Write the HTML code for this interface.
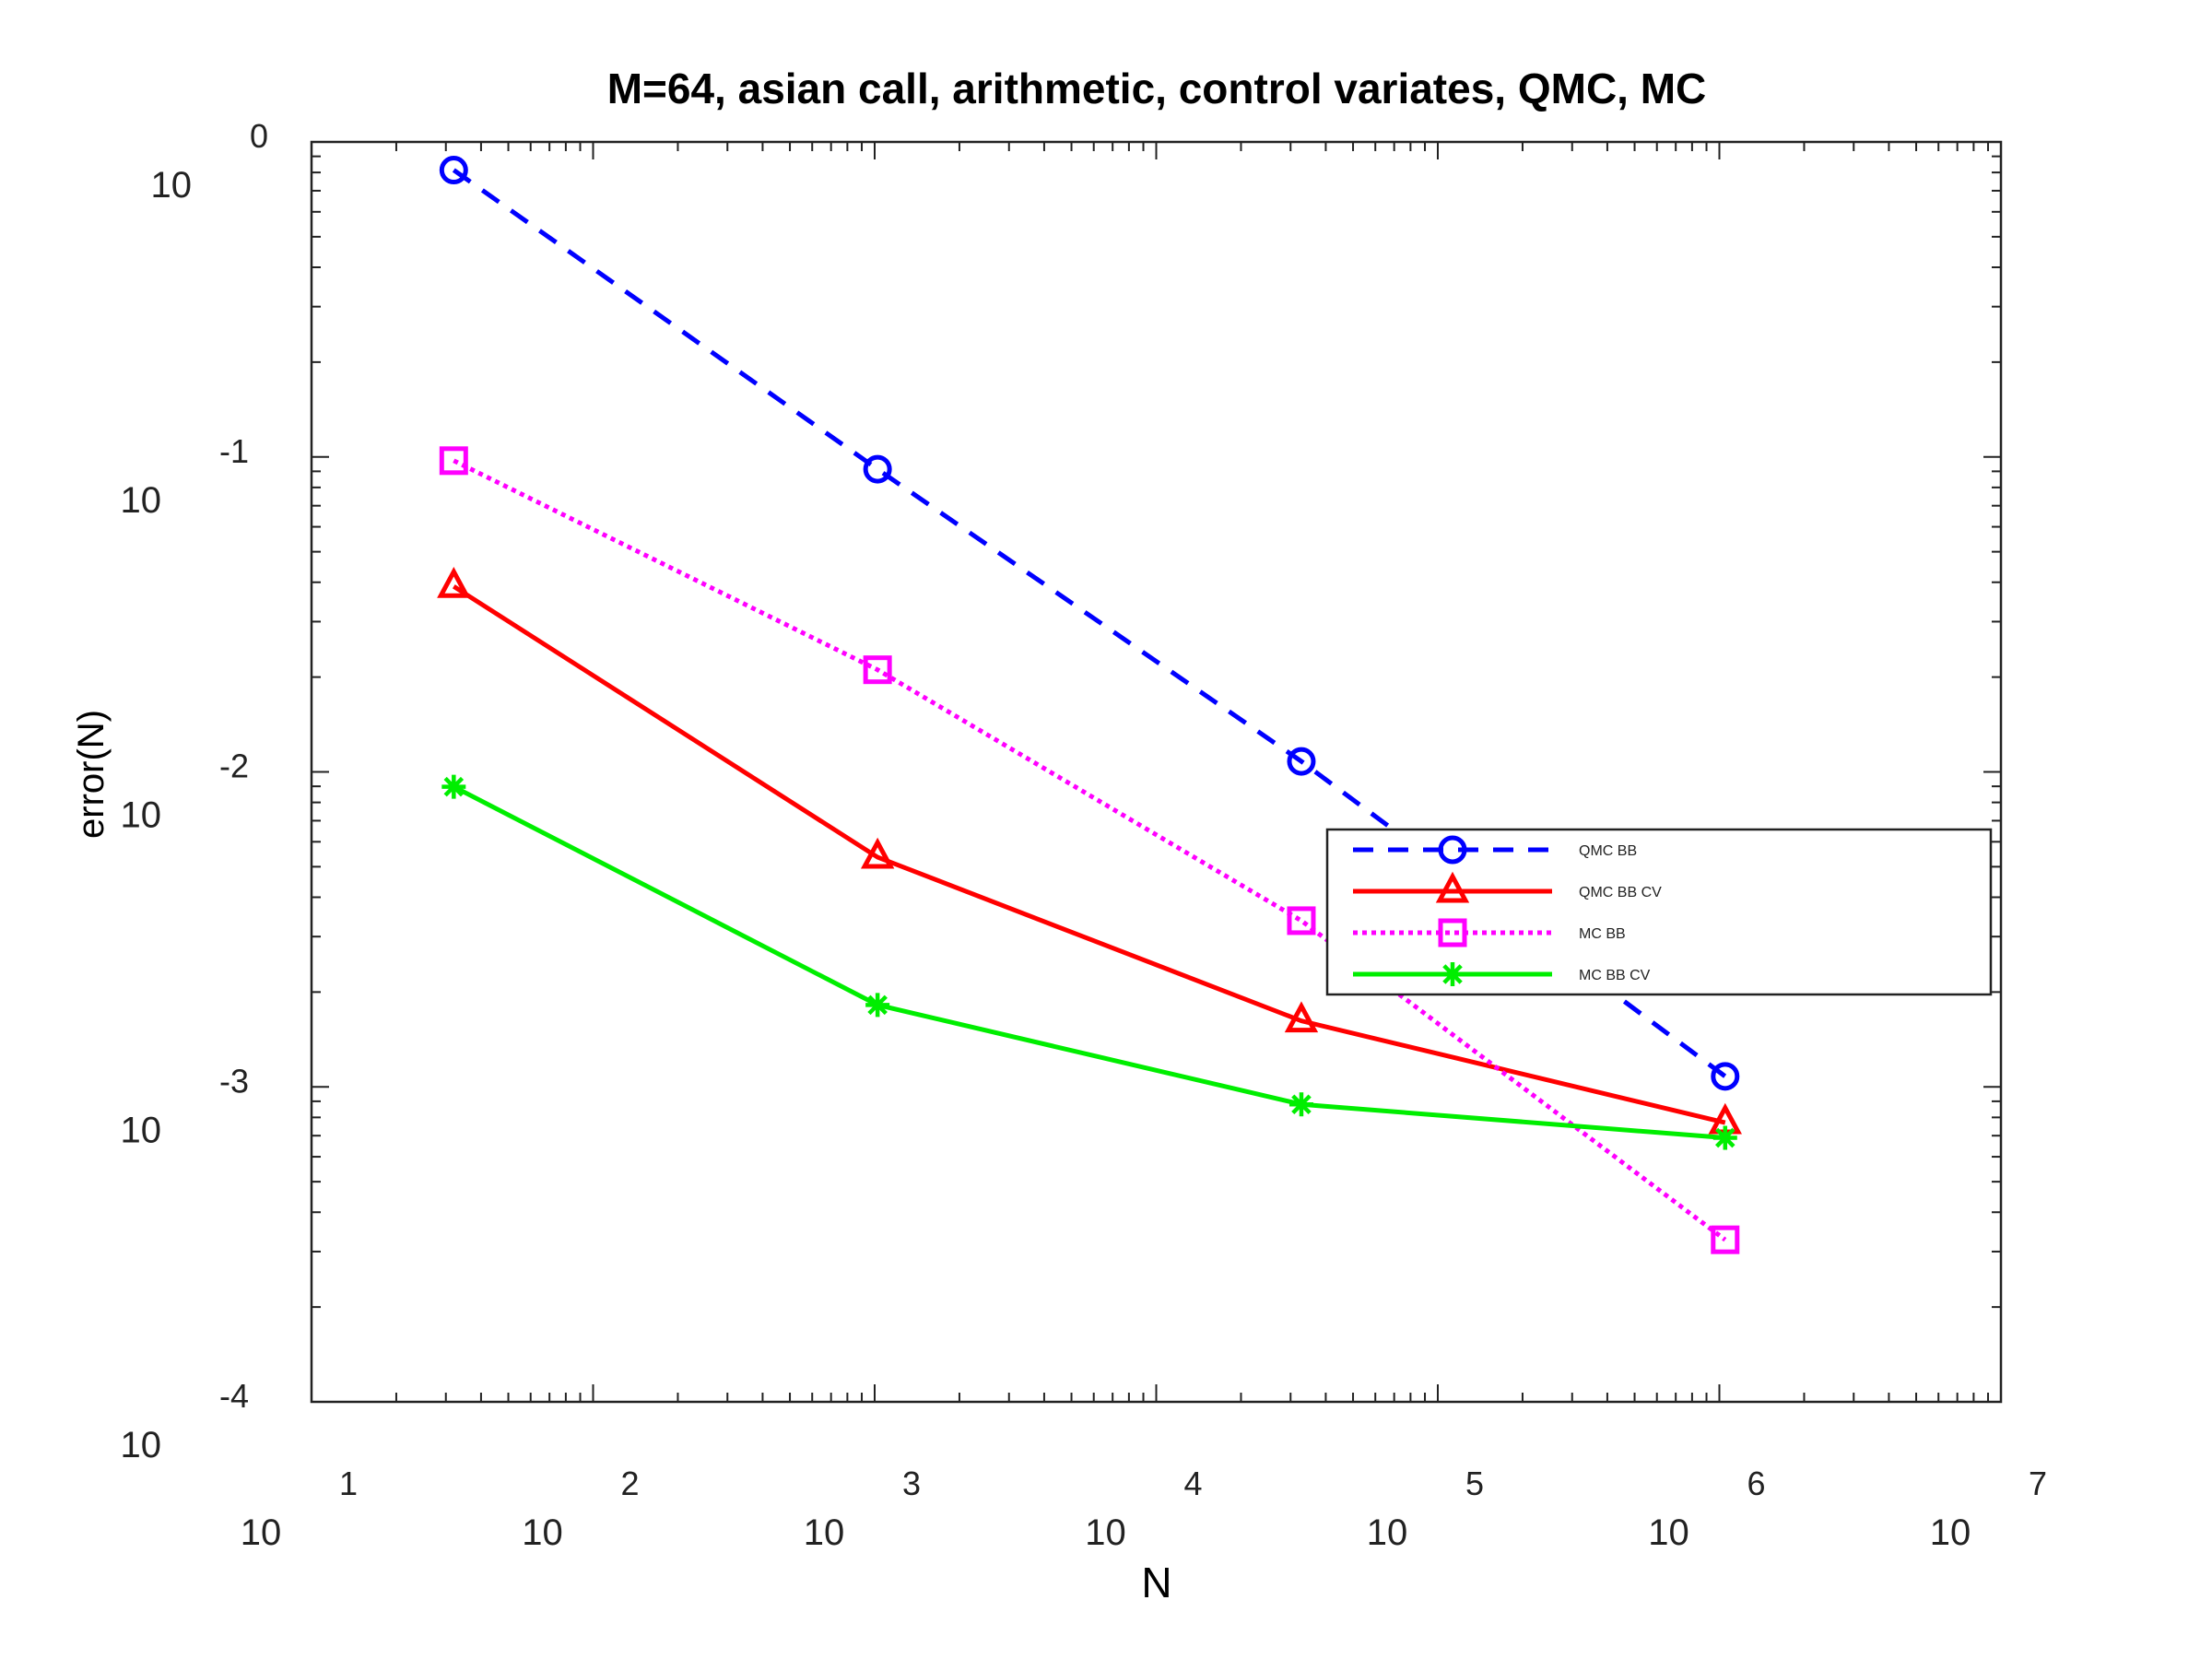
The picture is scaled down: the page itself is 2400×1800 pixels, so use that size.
<!DOCTYPE html>
<html><head><meta charset="utf-8"><style>
html,body{margin:0;padding:0;background:#fff}
svg{display:block;font-family:"Liberation Sans",sans-serif}
</style></head><body>
<svg id="chart" width="2400" height="1800" viewBox="0 0 2400 1800">
<rect x="0" y="0" width="2400" height="1800" fill="#fff"/>
<text x="1255" y="112" font-size="46" font-weight="bold" text-anchor="middle">M=64, asian call, arithmetic, control variates, QMC, MC</text>
<text x="1255" y="1733" font-size="46" text-anchor="middle">N</text>
<text transform="translate(112,840) rotate(-90)" font-size="40" text-anchor="middle">error(N)</text>
<g id="axes"></g>
<g id="series"></g>
<g id="legend"></g>
</svg>
<script>
const xValues = [32, 1024, 32768, 1048576];
const qmcBB = [0.814, 0.0914, 0.0108, 0.00108];
const qmcBBCV = [0.0388, 0.00536, 0.00162, 0.00077];
const mcBB = [0.0973, 0.0211, 0.00337, 0.000327];
const mcBBCV = [0.00897, 0.00182, 0.00088, 0.000689];
const xTickExps = [1, 2, 3, 4, 5, 6, 7];
const yTickExps = [0, -1, -2, -3, -4];
const seriesNames = ["QMC BB", "QMC BB CV", "MC BB", "MC BB CV"];

const NS = "http://www.w3.org/2000/svg";
const L = 338, R = 2171, T = 154, B = 1521;
const xMin = 1, xMax = 7, yMin = -4, yMax = 0;
function xs(v){ return L + (Math.log10(v) - xMin) / (xMax - xMin) * (R - L); }
function ys(v){ return T + (yMax - Math.log10(v)) / (yMax - yMin) * (B - T); }
function mk(tag, attrs, parent){
  const e = document.createElementNS(NS, tag);
  for (const k in attrs) e.setAttribute(k, attrs[k]);
  parent.appendChild(e); return e;
}
const axes = document.getElementById('axes');
const frame = mk('rect', {x:L, y:T, width:R-L, height:B-T, fill:'none', stroke:'#222', 'stroke-width':2.5}, axes);


for (let d = xMin; d <= xMax; d++) {
  for (let m = 1; m <= 9; m++) {
    if (d === xMax && m > 1) break;
    const px = xs(m * Math.pow(10, d));
    const len = m === 1 ? 19 : 10;
    const t1 = mk('line', {x1:px, y1:B, x2:px, y2:B-len, stroke:'#222', 'stroke-width':2}, axes);
    
    
    const t2 = mk('line', {x1:px, y1:T, x2:px, y2:T+len, stroke:'#222', 'stroke-width':2}, axes);
    
    
  }
}
xTickExps.forEach(e => {
  const px = xs(Math.pow(10, e));
  const b = mk('text', {x:px-55, y:1676, 'font-size':40, 'text-anchor':'middle', fill:'#222'}, axes);
  b.textContent = '10';
  
  
  const ex = mk('text', {x:px+40, y:1622, 'font-size':36, 'text-anchor':'middle', fill:'#222'}, axes);
  ex.textContent = String(e);
  
  
});
for (let d = yMin; d <= yMax; d++) {
  for (let m = 1; m <= 9; m++) {
    if (d === yMax && m > 1) break;
    const py = ys(m * Math.pow(10, d));
    const len = m === 1 ? 19 : 10;
    const t1 = mk('line', {x1:L, y1:py, x2:L+len, y2:py, stroke:'#222', 'stroke-width':2}, axes);
    
    
    const t2 = mk('line', {x1:R, y1:py, x2:R-len, y2:py, stroke:'#222', 'stroke-width':2}, axes);
    
    
  }
}
yTickExps.forEach(e => {
  const py = ys(Math.pow(10, e));
  const zero = e === 0;
  const b = mk('text', {x: zero ? 208 : 175, y: py+60, 'font-size':40, 'text-anchor':'end', fill:'#222'}, axes);
  b.textContent = '10';
  
  
  const ex = mk('text', {x: zero ? 291 : 270, y: py+6, 'font-size':36, 'text-anchor':'end', fill:'#222'}, axes);
  ex.textContent = String(e);
  
  
});

const styles = [
  {data:qmcBB, color:'#0000ff', dash:'22 16', marker:'circle', name:'qmc-bb'},
  {data:qmcBBCV, color:'#ff0000', dash:'', marker:'triangle', name:'qmc-bb-cv'},
  {data:mcBB, color:'#ff00ff', dash:'5 5', marker:'square', name:'mc-bb'},
  {data:mcBBCV, color:'#00ee00', dash:'', marker:'star', name:'mc-bb-cv'}
];
function marker(g, type, cx, cy, color){
  let e;
  if (type === 'circle') e = mk('circle', {cx, cy, r:13, fill:'none', stroke:color, 'stroke-width':5}, g);
  else if (type === 'square') e = mk('rect', {x:cx-13, y:cy-13, width:26, height:26, fill:'none', stroke:color, 'stroke-width':5}, g);
  else if (type === 'triangle') e = mk('polygon', {points:`${cx},${cy-16} ${cx-14},${cy+10} ${cx+14},${cy+10}`, fill:'none', stroke:color, 'stroke-width':5}, g);
  else {
    e = mk('g', {stroke:color, 'stroke-width':4.5}, g);
    for (let a = 0; a < 4; a++) {
      const ang = a * Math.PI / 4, dx = 13*Math.sin(ang), dy = 13*Math.cos(ang);
      mk('line', {x1:cx-dx, y1:cy-dy, x2:cx+dx, y2:cy+dy}, e);
    }
  }
  
  
}
const sg = document.getElementById('series');
styles.forEach(s => {
  const g = mk('g', {}, sg);
  
  
  const pts = s.data.map((v, i) => xs(xValues[i]) + ',' + ys(v)).join(' ');
  const pl = mk('polyline', {points:pts, fill:'none', stroke:s.color, 'stroke-width':5}, g);
  if (s.dash) pl.setAttribute('stroke-dasharray', s.dash);
  
  
  s.data.forEach((v, i) => marker(g, s.marker, xs(xValues[i]), ys(v), s.color));
});
const lg = document.getElementById('legend');
const box = mk('rect', {x:1440, y:900, width:720, height:179, fill:'#fff', stroke:'#222', 'stroke-width':2.5}, lg);


const legYs = [922, 967, 1012, 1057];
styles.forEach((s, i) => {
  const g = mk('g', {}, lg);
  
  
  const y = legYs[i];
  const ln = mk('line', {x1:1468, y1:y, x2:1684, y2:y, stroke:s.color, 'stroke-width':5}, g);
  if (s.dash) ln.setAttribute('stroke-dasharray', s.dash);
  
  
  marker(g, s.marker, 1576, y, s.color);
  const t = mk('text', {x:1713, y:y+6, 'font-size':16, fill:'#222'}, g);
  t.textContent = seriesNames[i];
  
  
});
</script>
</body></html>
